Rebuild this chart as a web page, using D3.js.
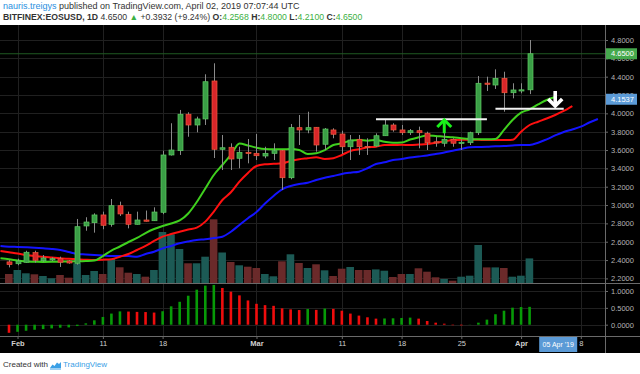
<!DOCTYPE html>
<html>
<head>
<meta charset="utf-8">
<title>EOSUSD 1D</title>
<script src="https://cdn.jsdelivr.net/npm/d3@7/dist/d3.min.js"></script>
<style>
  body { margin: 0; background: #fff; }
  svg { display: block; font-family: "Liberation Sans", Arial, sans-serif; }
</style>
</head>
<body>
<div class="chart"></div>
<script>
// daily candles from 31 Jan 2019 to 2 Apr 2019
let firstDay = new Date(Date.UTC(2019, 0, 31));

let open = [2.380, 2.360, 2.376, 2.481, 2.393, 2.401, 2.415, 2.390, 2.365, 2.772, 2.808, 2.892, 2.790, 2.993, 2.899, 2.790, 2.837, 2.829,
  2.921, 3.546, 3.593, 3.990, 3.873, 3.939, 4.353, 3.608, 3.630, 3.510, 3.575,
  3.564, 3.535, 3.564, 3.593, 3.298, 3.844, 3.819, 3.848, 3.663, 3.819, 3.775, 3.636, 3.717, 3.640, 3.644, 3.756, 3.873, 3.819, 3.789, 3.811,
  3.783, 3.690, 3.674, 3.717, 3.680, 3.680, 3.789, 4.330, 4.309, 4.382, 4.225, 4.255, 4.2568];
let high = [2.400, 2.415, 2.502, 2.502, 2.455, 2.430, 2.437, 2.400, 2.848, 2.867, 2.910, 2.928, 3.066, 3.037, 2.928, 2.928, 2.940, 2.975,
  3.593, 3.892, 4.037, 4.012, 3.964, 4.426, 4.546, 3.764, 3.673, 3.636, 3.720,
  3.775, 3.636, 3.673, 3.600, 3.884, 3.982, 4.018, 3.850, 3.840, 3.837, 3.811, 3.764, 3.764, 3.728, 3.782, 3.928, 3.892, 3.873, 3.829, 3.855,
  3.800, 3.745, 3.819, 3.728, 3.717, 3.800, 4.407, 4.400, 4.480, 4.454, 4.328, 4.328, 4.800];
let low = [2.320, 2.343, 2.372, 2.372, 2.383, 2.390, 2.325, 2.360, 2.350, 2.720, 2.699, 2.736, 2.764, 2.881, 2.746, 2.788, 2.820, 2.826,
  2.900, 3.540, 3.546, 3.745, 3.793, 3.873, 3.513, 3.382, 3.382, 3.401, 3.455,
  3.491, 3.510, 3.491, 3.164, 3.281, 3.655, 3.783, 3.582, 3.600, 3.728, 3.557, 3.491, 3.546, 3.546, 3.636, 3.756, 3.800, 3.764, 3.764, 3.619,
  3.600, 3.636, 3.636, 3.636, 3.600, 3.655, 3.764, 4.244, 4.266, 4.018, 4.164, 4.219, 4.210];
let close = [2.350, 2.390, 2.485, 2.398, 2.423, 2.415, 2.376, 2.368, 2.764, 2.815, 2.892, 2.779, 2.993, 2.903, 2.790, 2.837, 2.823, 2.924,
  3.546, 3.600, 3.990, 3.873, 3.939, 4.345, 3.608, 3.625, 3.502, 3.575, 3.568,
  3.538, 3.564, 3.593, 3.298, 3.844, 3.819, 3.844, 3.655, 3.829, 3.772, 3.636, 3.709, 3.636, 3.636, 3.756, 3.873, 3.819, 3.789, 3.811, 3.789,
  3.680, 3.680, 3.717, 3.674, 3.685, 3.789, 4.328, 4.320, 4.382, 4.225, 4.255, 4.2568, 4.650];
// volume, millions
let volume = [9.0, 13.0, 9.7, 8.7, 7.0, 4.7, 8.0, 5.3, 19.7, 8.0, 12.0, 9.0, 24.0, 15.7, 10.3, 9.0, 6.3, 13.0,
  51.0, 48.7, 34.0, 19.7, 19.7, 26.3, 63.7, 30.5, 21.0, 17.7, 16.3,
  15.0, 9.0, 6.7, 21.7, 28.7, 20.0, 15.0, 18.7, 12.7, 7.0, 14.3, 16.0, 13.0, 13.0, 13.6, 12.3, 6.0, 9.0, 9.0, 14.7,
  11.3, 5.7, 4.0, 2.3, 6.3, 7.3, 38.0, 15.6, 15.6, 15.0, 6.3, 7.3, 24.6];
// awesome oscillator
let ao = [-0.24, -0.21, -0.18, -0.15, -0.13, -0.11, -0.09, -0.08, -0.04, 0.04, 0.13, 0.23, 0.33, 0.395, 0.39, 0.38, 0.375, 0.36,
  0.40, 0.545, 0.68, 0.86, 1.04, 1.16, 1.18, 1.09, 0.98, 0.87, 0.72,
  0.62, 0.58, 0.56, 0.485, 0.455, 0.435, 0.465, 0.44, 0.48, 0.47, 0.415, 0.33, 0.27, 0.22, 0.18, 0.185, 0.19, 0.20, 0.21, 0.18,
  0.11, 0.06, 0.03, -0.015, -0.02, 0.005, 0.06, 0.15, 0.31, 0.415, 0.505, 0.525, 0.53];

// alligator lines, already shifted forward, first point 30 Jan
let lineStart = new Date(Date.UTC(2019, 0, 30));
let lips = [2.419, 2.409, 2.395, 2.384, 2.382, 2.380, 2.381, 2.383, 2.385, 2.387, 2.390, 2.395, 2.444, 2.504, 2.548, 2.597, 2.641, 2.695, 2.739,
  2.772, 2.799, 2.832, 2.908, 3.033, 3.181, 3.328, 3.437, 3.546, 3.671, 3.650,
  3.626, 3.611, 3.608, 3.608, 3.611, 3.600, 3.557, 3.564, 3.600, 3.655, 3.673, 3.702, 3.709, 3.702, 3.709, 3.691, 3.680, 3.682, 3.715, 3.739,
  3.759, 3.753, 3.745, 3.739, 3.728, 3.720, 3.717, 3.717, 3.720, 3.819, 3.928, 4.007, 4.044, 4.097, 4.146, 4.178];
let teeth = [2.499, 2.485, 2.472, 2.455, 2.444, 2.437, 2.428, 2.419, 2.414, 2.409, 2.404, 2.401, 2.404, 2.409, 2.437, 2.466, 2.510, 2.554, 2.608,
  2.655, 2.684, 2.709, 2.733, 2.753, 2.819, 2.928, 3.055, 3.139, 3.255, 3.350,
  3.426, 3.445, 3.450, 3.455, 3.480, 3.499, 3.510, 3.521, 3.502, 3.510, 3.546, 3.590, 3.608, 3.630, 3.636, 3.655, 3.655, 3.657, 3.655, 3.660,
  3.666, 3.680, 3.693, 3.709, 3.711, 3.712, 3.711, 3.709, 3.710, 3.709, 3.712, 3.800, 3.873, 3.909, 3.944, 3.982, 4.026, 4.080];
let jaw = [2.554, 2.546, 2.543, 2.539, 2.534, 2.528, 2.521, 2.510, 2.488, 2.466, 2.461, 2.455, 2.450, 2.444, 2.444, 2.443, 2.437, 2.466, 2.491,
  2.528, 2.554, 2.583, 2.603, 2.619, 2.627, 2.641, 2.655, 2.709, 2.783, 2.856,
  2.924, 3.017, 3.099, 3.172, 3.208, 3.230, 3.244, 3.273, 3.298, 3.317, 3.339, 3.353, 3.364, 3.401, 3.448, 3.466, 3.491, 3.502, 3.519, 3.530,
  3.540, 3.557, 3.573, 3.593, 3.611, 3.630, 3.633, 3.636, 3.641, 3.644, 3.650, 3.655, 3.656, 3.680, 3.717, 3.759, 3.797, 3.824, 3.855, 3.900, 3.939];

let priceTicks = [2.2, 2.4, 2.6, 2.8, 3.0, 3.2, 3.4, 3.6, 3.8, 4.0, 4.2, 4.4, 4.6, 4.8];
let aoTicks = [0, 0.5, 1];
let dateTicks = ["2019-02-01", "2019-02-11", "2019-02-18", "2019-03-01", "2019-03-11", "2019-03-18", "2019-03-25", "2019-04-01", "2019-04-08"];
let dateTickLabels = ["Feb", "11", "18", "Mar", "11", "18", "25", "Apr", "8"];

// drawn by the author
let levels = [
  {from: "2019-03-15", to: "2019-03-28", price: 3.935},
  {from: "2019-03-29", to: "2019-04-06", price: 4.051}
];
let arrows = [
  {date: "2019-03-23", from: 3.783, to: 3.928, color: "#19f019"},
  {date: "2019-04-05", from: 4.244, to: 4.080, color: "#ffffff"}
];
let cursorPrice = 4.1537, cursorDate = "05 Apr '19";

let width = 640, height = 374;
let right = 605, plotTop = 25, priceBottom = 283, aoBottom = 336, axisBottom = 353;

let svg = d3.select(".chart").append("svg")
    .attr("width", width)
    .attr("height", height);

let day = i => d3.utcDay.offset(firstDay, i);
let parse = s => new Date(s + "T00:00:00Z");

let x = d3.scaleUtc().domain([firstDay, day(61)]).range([9, 529.6]);
let y = d3.scaleLinear().domain([2.2, 4.8]).range([278.4, 40]);
let yAo = d3.scaleLinear().domain([0, 1]).range([324.7, 291]);
let yVol = d3.scaleLinear().domain([0, 100]).range([priceBottom, priceBottom - 100]);

// header
let last = close.length - 1;
let chg = close[last] - close[last - 1];
let up = "#3cb043", dark = "#333";

let h1 = svg.append("text").attr("x", 3).attr("y", 9).style("font-size", "9px").attr("fill", dark);
h1.append("tspan").attr("fill", "#2a8fe0").text("nauris.treigys");
h1.append("tspan").text(" published on TradingView.com, April 02, 2019 07:07:44 UTC");

let h2 = svg.append("text").attr("x", 3).attr("y", 20).style("font-size", "8.7px").attr("fill", dark);
h2.append("tspan").style("font-weight", "bold").text("BITFINEX:EOSUSD, 1D");
h2.append("tspan").text(" " + close[last].toFixed(4) + " ");
h2.append("tspan").attr("fill", up).text("\u25B2");
h2.append("tspan").text(" +" + chg.toFixed(4) + " (+" + (chg / close[last - 1] * 100).toFixed(2) + "%) ");
[["O:", open[last]], ["H:", high[last]], ["L:", low[last]], ["C:", close[last]]].forEach(([k, v], i) => {
    h2.append("tspan").style("font-weight", "bold").text(k);
    h2.append("tspan").attr("fill", up).text(v.toFixed(4) + (i < 3 ? " " : ""));
});

// black chart area
svg.append("rect").attr("x", 0).attr("y", plotTop).attr("width", width).attr("height", axisBottom - plotTop).attr("fill", "#000");

svg.append("clipPath").attr("id", "pricePane")
  .append("rect").attr("x", 0).attr("y", plotTop).attr("width", right).attr("height", priceBottom - plotTop);
svg.append("clipPath").attr("id", "aoPane")
  .append("rect").attr("x", 0).attr("y", priceBottom).attr("width", right).attr("height", aoBottom - priceBottom);

// grid
let grid = svg.append("g").attr("stroke", "#202020").attr("stroke-width", 1);
grid.selectAll(".hp").data(priceTicks).join("line")
    .attr("x1", 0).attr("x2", right)
    .attr("y1", d => Math.round(y(d)) + 0.5).attr("y2", d => Math.round(y(d)) + 0.5);
grid.selectAll(".ha").data(aoTicks).join("line")
    .attr("x1", 0).attr("x2", right)
    .attr("y1", d => Math.round(yAo(d)) + 0.5).attr("y2", d => Math.round(yAo(d)) + 0.5);
grid.selectAll(".v").data(dateTicks).join("line")
    .attr("x1", d => Math.round(x(parse(d))) + 0.5).attr("x2", d => Math.round(x(parse(d))) + 0.5)
    .attr("y1", plotTop).attr("y2", aoBottom);

let pane = svg.append("g").attr("clip-path", "url(#pricePane)");

// volume
pane.selectAll(".vol").data(volume).join("rect")
    .attr("x", (d, i) => x(day(i)) - 4)
    .attr("width", 7.6)
    .attr("y", d => yVol(d))
    .attr("height", d => priceBottom - yVol(d))
    .attr("fill", (d, i) => close[i] >= open[i] ? "#1c5a55" : "#6a2a2a");

// last price line
pane.append("line").attr("x1", 0).attr("x2", right)
    .attr("y1", y(close[last])).attr("y2", y(close[last]))
    .attr("stroke", "#1f5a22").attr("stroke-width", 1);

// alligator
let lineGen = d3.line().x((d, i) => x(d3.utcDay.offset(lineStart, i))).y(d => y(d)).curve(d3.curveMonotoneX);
[[jaw, "#1414ff"], [teeth, "#ff1010"], [lips, "#3fd01e"]].forEach(([vals, col]) => {
    pane.append("path").datum(vals).attr("d", lineGen)
        .attr("fill", "none").attr("stroke", col).attr("stroke-width", 2);
});

// candles
let candles = pane.selectAll(".candle").data(close).join("g");
candles.append("line")
    .attr("x1", (d, i) => Math.round(x(day(i))) + 0.5).attr("x2", (d, i) => Math.round(x(day(i))) + 0.5)
    .attr("y1", (d, i) => y(high[i])).attr("y2", (d, i) => y(low[i]))
    .attr("stroke", "#8a8a8a").attr("stroke-width", 1);
candles.append("rect")
    .attr("x", (d, i) => Math.round(x(day(i))) - 2)
    .attr("width", 5)
    .attr("y", (d, i) => y(Math.max(open[i], close[i])))
    .attr("height", (d, i) => Math.max(1.2, Math.abs(y(open[i]) - y(close[i]))))
    .attr("fill", (d, i) => close[i] >= open[i] ? "#3a9e46" : "#d8262a")
    .attr("stroke", (d, i) => close[i] >= open[i] ? "#5fcc63" : "#ef5a3c")
    .attr("stroke-width", 0.7);

// drawings
pane.selectAll(".level").data(levels).join("line")
    .attr("x1", d => x(parse(d.from))).attr("x2", d => x(parse(d.to)))
    .attr("y1", d => y(d.price)).attr("y2", d => y(d.price))
    .attr("stroke", "#f2f2f2").attr("stroke-width", 2);

arrows.forEach(a => {
    let ax = x(parse(a.date)), y0 = y(a.from), y1 = y(a.to);
    let dir = y1 < y0 ? 1 : -1;
    let g = pane.append("g").attr("fill", "none").attr("stroke", a.color)
        .attr("stroke-width", a.color === "#ffffff" ? 3.6 : 3).attr("stroke-linejoin", "miter");
    g.append("line").attr("x1", ax).attr("x2", ax).attr("y1", y0).attr("y2", y1 + dir * 1.5);
    g.append("path").attr("d", `M${ax - 7},${y1 + dir * 7}L${ax},${y1}L${ax + 7},${y1 + dir * 7}`);
});

// awesome oscillator
svg.append("g").attr("clip-path", "url(#aoPane)")
  .selectAll("rect").data(ao).join("rect")
    .attr("x", (d, i) => x(day(i)) - 1.3)
    .attr("width", 2.6)
    .attr("y", d => Math.min(yAo(0), yAo(d)))
    .attr("height", d => Math.abs(yAo(d) - yAo(0)))
    .attr("fill", (d, i) => i > 0 && d >= ao[i - 1] ? "#079a07" : "#f00d0d");

// separators
let sep = svg.append("g").attr("stroke", "#6a6a6a").attr("stroke-width", 1);
sep.append("line").attr("x1", right + 0.5).attr("x2", right + 0.5).attr("y1", plotTop).attr("y2", axisBottom);
sep.append("line").attr("x1", 0).attr("x2", width).attr("y1", priceBottom + 0.5).attr("y2", priceBottom + 0.5);
sep.append("line").attr("x1", 0).attr("x2", width).attr("y1", aoBottom + 0.5).attr("y2", aoBottom + 0.5);

// axes
function styleAxis(g) {
    g.select(".domain").remove();
    g.selectAll(".tick line").attr("stroke", "#6a6a6a");
    g.selectAll(".tick text").attr("fill", "#b4b4b4").style("font-size", "7.5px");
}
svg.append("g").attr("transform", `translate(${right},0)`)
    .call(d3.axisRight(y).tickValues(priceTicks).tickFormat(d3.format(".4f")).tickSize(3).tickPadding(3))
    .call(styleAxis);
svg.append("g").attr("transform", `translate(${right},0)`)
    .call(d3.axisRight(yAo).tickValues(aoTicks).tickFormat(d3.format(".4f")).tickSize(3).tickPadding(3))
    .call(styleAxis);
svg.append("g").attr("transform", `translate(0,${aoBottom})`)
    .call(d3.axisBottom(x).tickValues(dateTicks.map(parse)).tickFormat((d, i) => dateTickLabels[i]).tickSize(3).tickPadding(2))
    .call(styleAxis)
    .call(g => g.selectAll(".tick text")
        .style("font-weight", (d, i) => isNaN(+dateTickLabels[i]) ? "bold" : "normal")
        .attr("fill", "#d0d0d0"));

// price labels on the scale, drawn over the ticks they hide
function scaleLabel(yPos, txt, fill) {
    svg.append("rect").attr("x", right + 1).attr("y", yPos - 5.5).attr("width", width - right - 4).attr("height", 11).attr("fill", fill);
    svg.append("text").attr("x", right + 6).attr("y", yPos).attr("dy", "0.35em")
        .attr("fill", "#fff").style("font-size", "7.5px").text(txt);
}
scaleLabel(y(close[last]), close[last].toFixed(4), "#45a94d");
scaleLabel(y(cursorPrice), cursorPrice.toFixed(4), "#5b9ad6");

// date label under cursor
let cx = x(parse("2019-04-05"));
svg.append("rect").attr("x", cx - 16).attr("y", aoBottom + 1).attr("width", 38).attr("height", 15).attr("fill", "#5b9ad6");
svg.append("text").attr("x", cx + 3).attr("y", aoBottom + 9).attr("dy", "0.35em").attr("text-anchor", "middle")
    .attr("fill", "#fff").style("font-size", "7px").text(cursorDate);

// footer
let foot = svg.append("g").attr("transform", "translate(3,367)");
foot.append("text").attr("fill", dark).style("font-size", "8px").text("Created with");
let logo = foot.append("g").attr("transform", "translate(47,-6)").attr("fill", "#3aa0e6");
logo.append("path").attr("d", "M0,7 L2.5,3.5 L4.5,5 L7,1.5 L9,3 L11,1 L11,7 Z");
logo.append("path").attr("d", "M0,8 H11").attr("stroke", "#3aa0e6").attr("stroke-width", 1);
foot.append("text").attr("x", 60).attr("fill", "#3aa0e6").style("font-size", "8px").text("TradingView");
</script>
</body>
</html>
